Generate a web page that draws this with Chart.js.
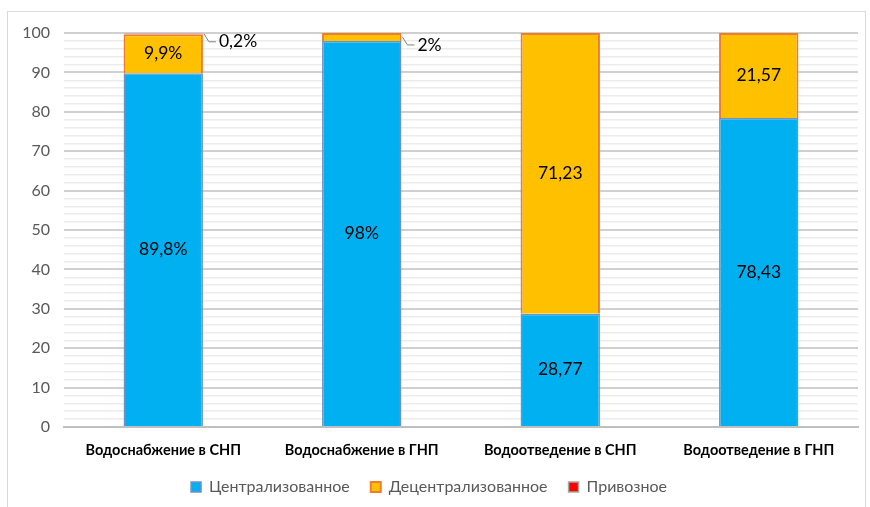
<!DOCTYPE html>
<html lang="ru">
<head>
<meta charset="UTF-8">
<title>Водоснабжение и водоотведение</title>
<script src="https://cdn.jsdelivr.net/npm/chart.js"></script>
<style>
  body { margin: 0; background: #fff; }
  #wrap { width: 870px; height: 507px; }
</style>
</head>
<body>
<div id="wrap"><canvas id="chart" width="870" height="507"></canvas></div>
<script>
const categories = ['Водоснабжение в СНП', 'Водоснабжение в ГНП', 'Водоотведение в СНП', 'Водоотведение в ГНП'];
const central = [89.8, 98, 28.77, 78.43];
const decentral = [9.9, 2, 71.23, 21.57];
const delivered = [0.2, 0, 0, 0];
const centralLabels = ['89,8%', '98%', '28,77', '78,43'];
const decentralLabels = ['9,9%', '2%', '71,23', '21,57'];
const deliveredLabels = ['0,2%', '', '', ''];

const FONT = 'Lato, "Liberation Sans", sans-serif';

const frame = {
  id: 'frame',
  beforeDraw(chart) {
    const ctx = chart.ctx;
    ctx.save();
    ctx.strokeStyle = '#d9d9d9';
    ctx.lineWidth = 1;
    ctx.strokeRect(7.5, 11.5, 858, 520);
    ctx.restore();
  }
};

const barLabels = {
  id: 'barLabels',
  afterDatasetsDraw(chart) {
    const ctx = chart.ctx;
    ctx.save();
    ctx.font = '17.5px ' + FONT;
    ctx.fillStyle = '#000';
    chart.data.datasets.forEach((ds, i) => {
      const meta = chart.getDatasetMeta(i);
      meta.data.forEach((bar, j) => {
        const txt = ds.valueLabels[j];
        if (!txt) return;
        const h = Math.abs(bar.base - bar.y);
        const midY = (bar.y + bar.base) / 2;
        if (h > 14) {
          ctx.textAlign = 'center';
          ctx.textBaseline = 'middle';
          ctx.fillText(txt, bar.x, midY);
        } else {
          const right = bar.x + bar.width / 2;
          const ly = midY + 8;
          ctx.strokeStyle = '#7f7f7f';
          ctx.lineWidth = 1;
          ctx.beginPath();
          ctx.moveTo(right + 1, midY);
          ctx.lineTo(right + 6, ly);
          ctx.lineTo(right + 13, ly);
          ctx.stroke();
          ctx.textAlign = 'left';
          ctx.textBaseline = 'middle';
          ctx.fillText(txt, right + 16, ly);
        }
      });
    });
    ctx.restore();
  }
};

new Chart(document.getElementById('chart'), {
  type: 'bar',
  data: {
    labels: categories,
    datasets: [
      {
        label: 'Централизованное',
        data: central,
        valueLabels: centralLabels,
        backgroundColor: '#00b0f0',
        borderColor: '#7191c4',
        borderWidth: 1.5
      },
      {
        label: 'Децентрализованное',
        data: decentral,
        valueLabels: decentralLabels,
        backgroundColor: '#ffc000',
        borderColor: '#ed7d31',
        borderWidth: 2
      },
      {
        label: 'Привозное',
        data: delivered,
        valueLabels: deliveredLabels,
        backgroundColor: '#ff0000',
        borderColor: '#a5a5a5',
        borderWidth: 1.5
      }
    ]
  },
  options: {
    responsive: false,
    animation: false,
    barPercentage: 0.4,
    categoryPercentage: 1,
    layout: { padding: { left: 0, right: 12, top: 33, bottom: 2 } },
    scales: {
      x: {
        stacked: true,
        grid: { display: false },
        border: { color: '#bfbfbf', width: 2 },
        ticks: { color: '#000', font: { family: FONT, size: 14.5, weight: 'bold' }, padding: 7, maxRotation: 0 },
        afterFit(s) { s.height = 31; }
      },
      y: {
        stacked: true,
        min: 0,
        max: 100,
        ticks: {
          stepSize: 2,
          autoSkip: false,
          color: '#595959',
          padding: 14,
          font: { family: FONT, size: 16 },
          callback: v => (v % 10 === 0 ? v : '')
        },
        grid: {
          drawTicks: false,
          color: c => (c.tick.value % 10 === 0 ? '#d0d0d0' : '#ececec'),
          lineWidth: c => (c.tick.value % 10 === 0 ? 2 : 1.5)
        },
        border: { display: false },
        afterFit(s) { s.width = 64; }
      }
    },
    plugins: {
      legend: {
        position: 'bottom',
        labels: {
          color: '#595959',
          font: { family: FONT, size: 16 },
          boxWidth: 10,
          boxHeight: 10,
          padding: 21
        }
      },
      tooltip: { enabled: false }
    }
  },
  plugins: [frame, barLabels]
});
</script>
</body>
</html>
